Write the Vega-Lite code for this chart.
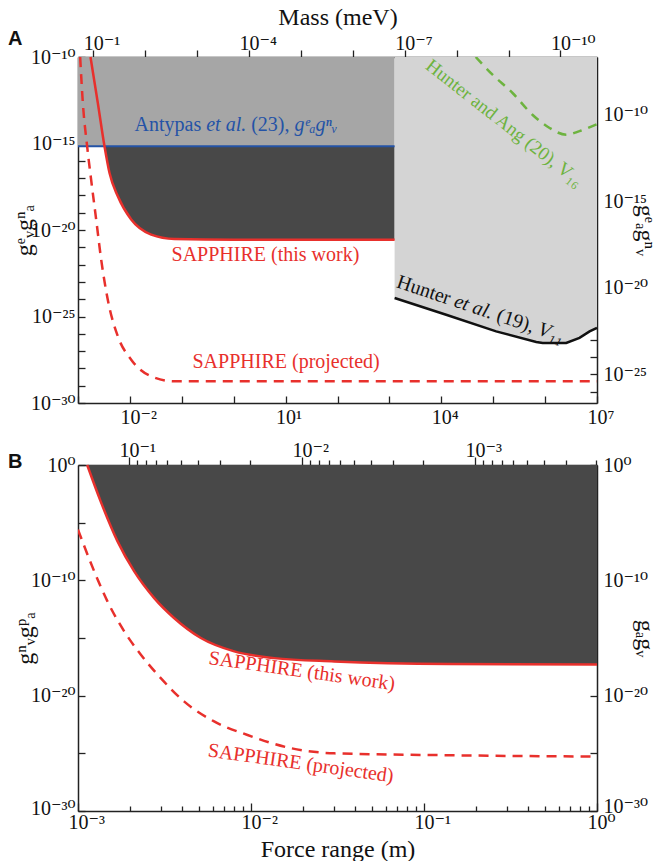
{
  "$schema": "https://vega.github.io/schema/vega-lite/v6.json",
  "padding": {"left": 8, "top": 5, "right": 2, "bottom": 0},
  "bounds": "flush",
  "spacing": 62,
  "config": {
    "font": "Liberation Serif",
    "view": {"stroke": null},
    "axis": {
      "grid": false, "domainColor": "#222", "domainWidth": 1.5, "tickColor": "#222", "tickWidth": 1.3,
      "labelFont": "Liberation Serif, DejaVu Serif", "labelFontSize": 20, "labelColor": "#111", "labelFlush": false, "labelOverlap": false,
      "titleFont": "Liberation Serif, DejaVu Serif", "titleFontSize": 24, "titleFontWeight": "normal", "titleColor": "#111"
    },
    "text": {"font": "Liberation Serif, DejaVu Serif"},
    "title": {"font": "Liberation Sans", "fontWeight": "bold", "fontSize": 20, "color": "#111"}
  },
  "datasets": {
    "redA": [
      {"x": 0.00174, "y": 1e-10}, {"x": 0.00241, "y": 2.2e-13}, {"x": 0.00324, "y": 6.9e-16},
      {"x": 0.00405, "y": 1.95e-17}, {"x": 0.00585, "y": 8.9e-19}, {"x": 0.0106, "y": 4.0e-20},
      {"x": 0.0257, "y": 5.4e-21}, {"x": 0.0723, "y": 3.0e-21}, {"x": 1.04, "y": 2.75e-21}, {"x": 1260, "y": 2.75e-21}
    ],
    "dashA": [
      {"x": 0.0011, "y": 1e-10}, {"x": 0.00124, "y": 2.2e-13}, {"x": 0.0015, "y": 6.9e-16},
      {"x": 0.00179, "y": 8.1e-18}, {"x": 0.00224, "y": 4.0e-20}, {"x": 0.0028, "y": 1.9e-22},
      {"x": 0.00375, "y": 9.3e-25}, {"x": 0.00585, "y": 7.2e-27}, {"x": 0.0106, "y": 3.2e-28},
      {"x": 0.0257, "y": 3.5e-29}, {"x": 0.0723, "y": 1.8e-29}, {"x": 10000000, "y": 1.8e-29}
    ],
    "hunter": [
      {"x": 1260, "y": 1.17e-24}, {"x": 12400, "y": 1.26e-25}, {"x": 114000, "y": 1.38e-26},
      {"x": 675000, "y": 3.4e-27}, {"x": 900000, "y": 2.95e-27}, {"x": 2550000, "y": 2.95e-27},
      {"x": 4600000, "y": 5.8e-27}, {"x": 7200000, "y": 1.38e-26}, {"x": 10000000, "y": 2.2e-26}
    ],
    "hunterAng": [
      {"x": 46000, "y": 1e-10}, {"x": 97000, "y": 9.5e-12}, {"x": 236000, "y": 8.3e-13},
      {"x": 570000, "y": 4.6e-14}, {"x": 1220000, "y": 7.9e-15}, {"x": 2550000, "y": 3.2e-15},
      {"x": 4600000, "y": 5.2e-15}, {"x": 10000000, "y": 1.3e-14}
    ],
    "grayA": [{"x": 0.001, "x2": 1260, "y": 6.9e-16, "y2": 1e-10}],
    "antypas": [{"x": 0.001, "y": 6.9e-16}, {"x": 1260, "y": 6.9e-16}],
    "redB": [
      {"x": 0.00113, "y": 1}, {"x": 0.00135, "y": 7.4e-4}, {"x": 0.00169, "y": 2.5e-7},
      {"x": 0.00211, "y": 6.2e-10}, {"x": 0.00275, "y": 3.0e-12}, {"x": 0.00359, "y": 5.4e-14},
      {"x": 0.00513, "y": 1e-15}, {"x": 0.008, "y": 6.9e-17}, {"x": 0.0136, "y": 1.8e-17},
      {"x": 0.0303, "y": 9.3e-18}, {"x": 0.14, "y": 5.5e-18}, {"x": 1, "y": 5e-18}
    ],
    "dashB": [
      {"x": 0.001, "y": 2.5e-6}, {"x": 0.00124, "y": 6.2e-10}, {"x": 0.00148, "y": 1.5e-12},
      {"x": 0.00185, "y": 3.8e-15}, {"x": 0.00231, "y": 3.5e-17}, {"x": 0.00301, "y": 3.3e-19},
      {"x": 0.0041, "y": 3.2e-21}, {"x": 0.00612, "y": 5.8e-23}, {"x": 0.00955, "y": 3.9e-24},
      {"x": 0.017, "y": 2.8e-25}, {"x": 0.0303, "y": 1.0e-25}, {"x": 0.14, "y": 6.8e-26}, {"x": 1, "y": 5.2e-26}
    ]
  },
  "vconcat": [
    {
      "width": 519, "height": 346,
      "title": {"text": "A", "anchor": "start", "frame": "group", "dx": -70, "offset": -44},
      "layer": [
        {
          "encoding": {
            "x": {"field": "x", "type": "quantitative",
              "scale": {"type": "log", "domain": [0.001, 10000000], "nice": false},
              "axis": {"orient": "bottom", "title": null,
                "values": [0.001, 0.01, 0.1, 1, 10, 100, 1000, 10000, 100000, 1000000, 10000000],
                "tickSize": -7, "labelPadding": 11, "labelAlign": "left", "labelOffset": -10,
                "labelExpr": "round(log(datum.value)/LN10)==-2?'10⁻²':round(log(datum.value)/LN10)==1?'10¹':round(log(datum.value)/LN10)==4?'10⁴':round(log(datum.value)/LN10)==7?'10⁷':''"}},
            "y": {"field": "y", "type": "quantitative",
              "scale": {"type": "log", "domain": [1e-30, 1e-10], "nice": false},
              "axis": {"orient": "left", "title": "gᵉᵥgⁿₐ", "titlePadding": -6,
                "values": [1e-10, 1e-11, 1e-12, 1e-13, 1e-14, 1e-15, 1e-16, 1e-17, 1e-18, 1e-19, 1e-20, 1e-21, 1e-22, 1e-23, 1e-24, 1e-25, 1e-26, 1e-27, 1e-28, 1e-29, 1e-30],
                "tickSize": -7, "labelPadding": 10,
                "labelExpr": "round(log(datum.value)/LN10)==-10?'10⁻¹⁰':round(log(datum.value)/LN10)==-15?'10⁻¹⁵':round(log(datum.value)/LN10)==-20?'10⁻²⁰':round(log(datum.value)/LN10)==-25?'10⁻²⁵':round(log(datum.value)/LN10)==-30?'10⁻³⁰':''"}}
          },
          "layer": [
            {"data": {"name": "grayA"}, "mark": {"type": "rect", "color": "#a6a6a6"},
             "encoding": {"x2": {"field": "x2"}, "y2": {"field": "y2"}}},
            {"data": {"name": "redA"}, "transform": [{"filter": "datum.y <= 7e-16"}],
             "mark": {"type": "area", "color": "#484848", "interpolate": "monotone", "opacity": 1},
             "encoding": {"y2": {"datum": 6.9e-16}}},
            {"data": {"name": "hunter"},
             "mark": {"type": "area", "color": "#d4d4d4", "interpolate": "linear", "opacity": 1},
             "encoding": {"y2": {"datum": 1e-10}}},
            {"data": {"name": "antypas"}, "mark": {"type": "line", "color": "#2453a6", "strokeWidth": 2}},
            {"data": {"name": "redA"}, "mark": {"type": "line", "color": "#e8302c", "strokeWidth": 2.5, "interpolate": "monotone"}},
            {"data": {"name": "dashA"}, "mark": {"type": "line", "color": "#e8302c", "strokeWidth": 2.5, "strokeDash": [10, 7], "interpolate": "monotone", "clip": true}},
            {"data": {"name": "hunter"}, "mark": {"type": "line", "color": "#111", "strokeWidth": 2.5}},
            {"data": {"name": "hunterAng"}, "mark": {"type": "line", "color": "#6db33f", "strokeWidth": 2.5, "strokeDash": [9, 7], "interpolate": "monotone", "clip": true}},
            {"data": {"values": [{"x": 0.01227, "y": 1.1e-14, "t": "Antypas"}]},
             "mark": {"type": "text", "color": "#2453a6", "fontSize": 20, "align": "left", "baseline": "middle"},
             "encoding": {"text": {"field": "t"}}},
            {"data": {"values": [{"x": 0.01227, "y": 1.1e-14, "t": "et al."}]},
             "mark": {"type": "text", "color": "#2453a6", "fontSize": 20, "fontStyle": "italic", "align": "left", "baseline": "middle", "dx": 71.7},
             "encoding": {"text": {"field": "t"}}},
            {"data": {"values": [{"x": 0.01227, "y": 1.1e-14, "t": "(23),"}]},
             "mark": {"type": "text", "color": "#2453a6", "fontSize": 20, "align": "left", "baseline": "middle", "dx": 116.7},
             "encoding": {"text": {"field": "t"}}},
            {"data": {"values": [{"x": 0.01227, "y": 1.1e-14, "t": "gᵉₐgⁿᵥ"}]},
             "mark": {"type": "text", "color": "#2453a6", "fontSize": 20, "fontStyle": "italic", "align": "left", "baseline": "middle", "dx": 160},
             "encoding": {"text": {"field": "t"}}},
            {"data": {"values": [{"x": 0.0634, "y": 3.6e-22, "t": "SAPPHIRE (this work)"}]},
             "mark": {"type": "text", "color": "#e8302c", "fontSize": 20, "align": "left", "baseline": "middle"},
             "encoding": {"text": {"field": "t"}}},
            {"data": {"values": [{"x": 0.1607, "y": 2.3e-28, "t": "SAPPHIRE (projected)"}]},
             "mark": {"type": "text", "color": "#e8302c", "fontSize": 20, "align": "left", "baseline": "middle"},
             "encoding": {"text": {"field": "t"}}},
            {"data": {"values": [{"x": 1312, "y": 5e-24, "t": "Hunter"}]},
             "mark": {"type": "text", "color": "#111", "fontSize": 20, "align": "left", "baseline": "alphabetic", "angle": 18.5},
             "encoding": {"text": {"field": "t"}}},
            {"data": {"values": [{"x": 1312, "y": 5e-24, "t": "et al."}]},
             "mark": {"type": "text", "color": "#111", "fontSize": 20, "fontStyle": "italic", "align": "left", "baseline": "alphabetic", "angle": 18.5, "dx": 60.5},
             "encoding": {"text": {"field": "t"}}},
            {"data": {"values": [{"x": 1312, "y": 5e-24, "t": "(19),"}]},
             "mark": {"type": "text", "color": "#111", "fontSize": 20, "align": "left", "baseline": "alphabetic", "angle": 18.5, "dx": 105.5},
             "encoding": {"text": {"field": "t"}}},
            {"data": {"values": [{"x": 1312, "y": 5e-24, "t": "V₁₁"}]},
             "mark": {"type": "text", "color": "#111", "fontSize": 20, "fontStyle": "italic", "align": "left", "baseline": "alphabetic", "angle": 18.5, "dx": 148.8},
             "encoding": {"text": {"field": "t"}}},
            {"data": {"values": [{"x": 165000, "y": 1.53e-14, "t": "Hunter and Ang (20), V₁₆"}]},
             "mark": {"type": "text", "color": "#6db33f", "fontSize": 19, "align": "center", "baseline": "middle", "angle": 38},
             "encoding": {"text": {"field": "t"}}}
          ]
        },
        {
          "data": {"values": [{"m": 0.1973, "r": 2.2e-7}, {"m": 1.973e-11, "r": 2.2e-27}]},
          "mark": {"type": "point", "opacity": 0},
          "encoding": {
            "x": {"field": "m", "type": "quantitative",
              "scale": {"type": "log", "domain": [1.973e-11, 0.1973], "reverse": true, "nice": false},
              "axis": {"orient": "top", "title": "Mass (meV)", "titlePadding": 4,
                "values": [0.1, 0.01, 0.001, 0.0001, 0.00001, 0.000001, 1e-7, 1e-8, 1e-9, 1e-10],
                "tickSize": 7, "labelPadding": -3, "labelAlign": "left", "labelOffset": -10,
                "labelExpr": "round(log(datum.value)/LN10)==-1?'10⁻¹':round(log(datum.value)/LN10)==-4?'10⁻⁴':round(log(datum.value)/LN10)==-7?'10⁻⁷':round(log(datum.value)/LN10)==-10?'10⁻¹⁰':''"}},
            "y": {"field": "r", "type": "quantitative",
              "scale": {"type": "log", "domain": [2.2e-27, 2.2e-7], "nice": false},
              "axis": {"orient": "right", "title": "gᵉₐgⁿᵥ", "titlePadding": -15,
                "values": [1e-7, 1e-8, 1e-9, 1e-10, 1e-11, 1e-12, 1e-13, 1e-14, 1e-15, 1e-16, 1e-17, 1e-18, 1e-19, 1e-20, 1e-21, 1e-22, 1e-23, 1e-24, 1e-25, 1e-26],
                "tickSize": -7, "labelPadding": 13,
                "labelExpr": "round(log(datum.value)/LN10)==-10?'10⁻¹⁰':round(log(datum.value)/LN10)==-15?'10⁻¹⁵':round(log(datum.value)/LN10)==-20?'10⁻²⁰':round(log(datum.value)/LN10)==-25?'10⁻²⁵':''"}}
          }
        }
      ],
      "resolve": {"scale": {"x": "independent", "y": "independent"}, "axis": {"x": "independent", "y": "independent"}}
    },
    {
      "width": 519, "height": 346,
      "title": {"text": "B", "anchor": "start", "frame": "group", "dx": -70, "offset": -32},
      "layer": [
        {
          "encoding": {
            "x": {"field": "x", "type": "quantitative",
              "scale": {"type": "log", "domain": [0.001, 1], "nice": false},
              "axis": {"orient": "bottom", "title": "Force range (m)", "titlePadding": 2,
                "values": [0.001, 0.002, 0.003, 0.004, 0.005, 0.006, 0.007, 0.008, 0.009, 0.01, 0.02, 0.03, 0.04, 0.05, 0.06, 0.07, 0.08, 0.09, 0.1, 0.2, 0.3, 0.4, 0.5, 0.6, 0.7, 0.8, 0.9, 1],
                "tickSize": {"condition": {"test": "abs(log(datum.value)/LN10-round(log(datum.value)/LN10))>0.01", "value": -5}, "value": -8},
                "labelPadding": 9, "labelAlign": "left", "labelOffset": -10,
                "labelExpr": "abs(log(datum.value)/LN10-round(log(datum.value)/LN10))>0.01?'':round(log(datum.value)/LN10)==-3?'10⁻³':round(log(datum.value)/LN10)==-2?'10⁻²':round(log(datum.value)/LN10)==-1?'10⁻¹':round(log(datum.value)/LN10)==0?'10⁰':''"}},
            "y": {"field": "y", "type": "quantitative",
              "scale": {"type": "log", "domain": [1e-30, 1], "nice": false},
              "axis": {"orient": "left", "title": "gⁿᵥgᵖₐ", "titlePadding": -7,
                "values": [1, 1e-5, 1e-10, 1e-15, 1e-20, 1e-25, 1e-30],
                "tickSize": -7, "labelPadding": 10,
                "labelOffset": {"condition": {"test": "datum.value < 1e-29", "value": -3}, "value": 0},
                "labelExpr": "round(log(datum.value)/LN10)==0?'10⁰':round(log(datum.value)/LN10)==-10?'10⁻¹⁰':round(log(datum.value)/LN10)==-20?'10⁻²⁰':round(log(datum.value)/LN10)==-30?'10⁻³⁰':''"}}
          },
          "layer": [
            {"data": {"name": "redB"}, "mark": {"type": "area", "color": "#484848", "interpolate": "monotone", "opacity": 1},
             "encoding": {"y2": {"datum": 1}}},
            {"data": {"name": "redB"}, "mark": {"type": "line", "color": "#e8302c", "strokeWidth": 2.5, "interpolate": "monotone"}},
            {"data": {"name": "dashB"}, "mark": {"type": "line", "color": "#e8302c", "strokeWidth": 2.5, "strokeDash": [10, 7], "interpolate": "monotone", "clip": true}},
            {"data": {"values": [{"x": 0.00565, "y": 5.5e-18, "t": "SAPPHIRE (this work)"}]},
             "mark": {"type": "text", "color": "#e8302c", "fontSize": 20, "align": "left", "baseline": "alphabetic", "angle": 8},
             "encoding": {"text": {"field": "t"}}},
            {"data": {"values": [{"x": 0.00558, "y": 5.5e-26, "t": "SAPPHIRE (projected)"}]},
             "mark": {"type": "text", "color": "#e8302c", "fontSize": 20, "align": "left", "baseline": "alphabetic", "angle": 8},
             "encoding": {"text": {"field": "t"}}}
          ]
        },
        {
          "data": {"values": [{"m": 0.1973, "r": 1}, {"m": 0.0001973, "r": 1e-30}]},
          "mark": {"type": "point", "opacity": 0},
          "encoding": {
            "x": {"field": "m", "type": "quantitative",
              "scale": {"type": "log", "domain": [0.0001973, 0.1973], "reverse": true, "nice": false},
              "axis": {"orient": "top", "title": null,
                "values": [0.1, 0.09, 0.08, 0.07, 0.06, 0.05, 0.04, 0.03, 0.02, 0.01, 0.009, 0.008, 0.007, 0.006, 0.005, 0.004, 0.003, 0.002, 0.001, 0.0009, 0.0008, 0.0007, 0.0006, 0.0005, 0.0004, 0.0003, 0.0002],
                "tickSize": {"condition": {"test": "abs(log(datum.value)/LN10-round(log(datum.value)/LN10))>0.01", "value": 5}, "value": 8},
                "labelPadding": -3, "labelAlign": "left", "labelOffset": -10,
                "labelExpr": "abs(log(datum.value)/LN10-round(log(datum.value)/LN10))>0.01?'':round(log(datum.value)/LN10)==-1?'10⁻¹':round(log(datum.value)/LN10)==-2?'10⁻²':round(log(datum.value)/LN10)==-3?'10⁻³':''"}},
            "y": {"field": "r", "type": "quantitative",
              "scale": {"type": "log", "domain": [1e-30, 1], "nice": false},
              "axis": {"orient": "right", "title": "gₐgᵥ", "titlePadding": -15,
                "values": [1, 1e-5, 1e-10, 1e-15, 1e-20, 1e-25, 1e-30],
                "tickSize": -7, "labelPadding": 13,
                "labelOffset": {"condition": {"test": "datum.value < 1e-29", "value": -5}, "value": 0},
                "labelExpr": "round(log(datum.value)/LN10)==0?'10⁰':round(log(datum.value)/LN10)==-10?'10⁻¹⁰':round(log(datum.value)/LN10)==-20?'10⁻²⁰':round(log(datum.value)/LN10)==-30?'10⁻³⁰':''"}}
          }
        }
      ],
      "resolve": {"scale": {"x": "independent", "y": "independent"}, "axis": {"x": "independent", "y": "independent"}}
    }
  ]
}
